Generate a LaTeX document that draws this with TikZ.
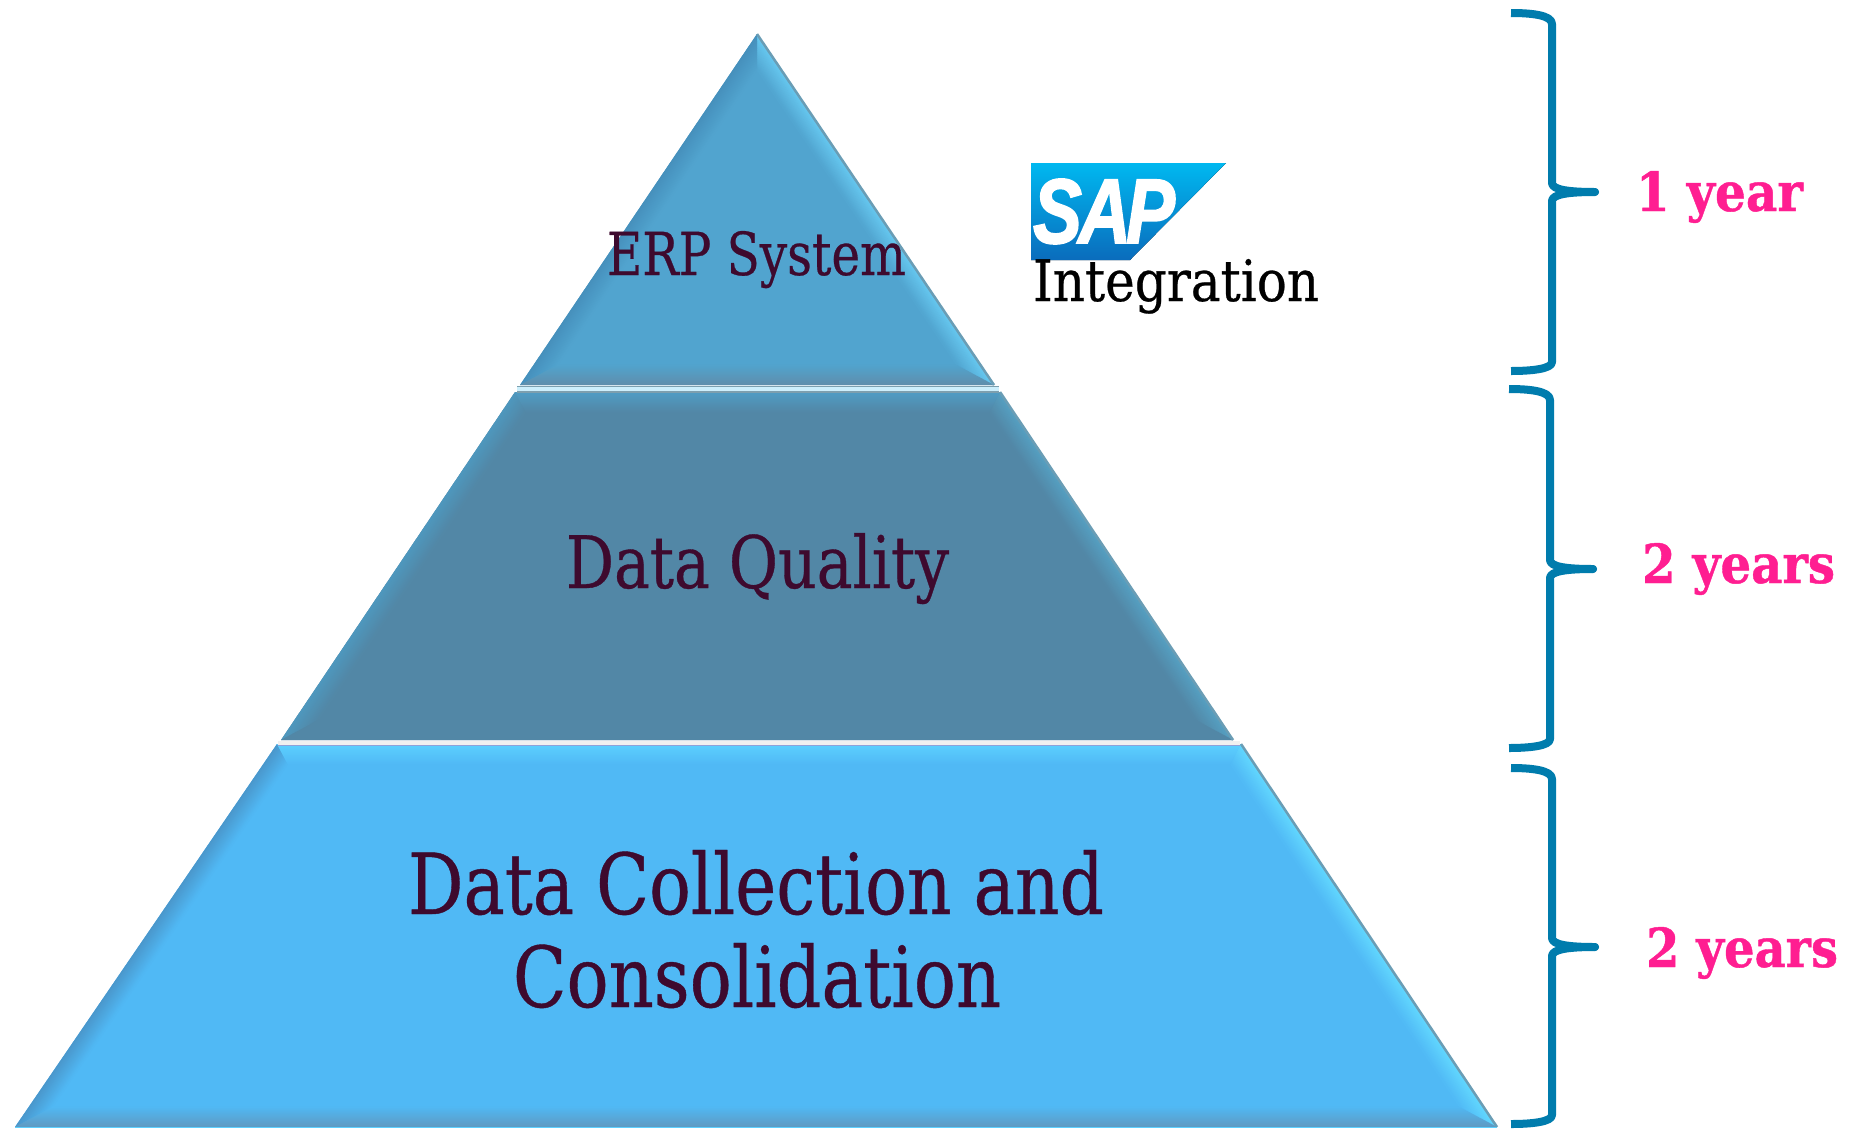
\documentclass[tikz,border=0pt]{standalone}
\usepackage{fontspec}
\usepackage{graphicx}
\newfontfamily\capfont[FakeBold=0.5]{DejaVu Serif}
\newfontfamily\capbfont[FakeBold=0.8]{DejaVu Serif}
\newfontfamily\logofont[FakeBold=2]{Liberation Sans}
\definecolor{plumtext}{HTML}{3E0A2E}
\definecolor{pinktext}{HTML}{FF1E91}
\definecolor{bracecol}{HTML}{007CAD}
\definecolor{edgeline}{HTML}{6A9DB5}
\definecolor{sapTop}{HTML}{00B8F0}
\definecolor{sapBot}{HTML}{0A6CBC}
\tikzset{
  label text/.style={inner sep=0pt,outer sep=0pt,anchor=base},
  left text/.style={inner sep=0pt,outer sep=0pt,anchor=base west},
  brace line/.style={draw=bracecol,line width=8pt,line join=round,line cap=butt},
}
% fit text to width and height above the baseline (in picture pixels)
\newcommand{\fitted}[3]{\resizebox{#1pt}{#2pt}{\capfont #3}}
\newcommand{\fittedb}[3]{\resizebox{#1pt}{#2pt}{\capbfont\bfseries #3}}
% bevelled layer: TLx TRx ytop BRx BLx ybot topvecx topvecy
\newcommand{\pyrlayer}[8]{%
  \fill[cB] (#1,#3) -- (#2,#3) -- (#4,#6) -- (#5,#6) -- cycle;
  \foreach \k in {0,...,19}{%
    \pgfmathtruncatemacro\p{100*(1-\k/20)}%
    \pgfmathsetmacro\kk{\k+1.6}%
    \fill[cL!\p!cB] ({#1+\k*#7},{#3+\k*#8}) -- ({#1+\kk*#7},{#3+\kk*#8}) -- ({#5+\kk*1.87},{#6-\kk}) -- ({#5+\k*1.87},{#6-\k}) -- cycle;
    \fill[cR!\p!cB] ({#2-\k*#7},{#3+\k*#8}) -- ({#2-\kk*#7},{#3+\kk*#8}) -- ({#4-\kk*1.87},{#6-\kk}) -- ({#4-\k*1.87},{#6-\k}) -- cycle;
    \fill[cT!\p!cB] ({#1+\k*#7},{#3+\k*#8}) -- ({#2-\k*#7},{#3+\k*#8}) -- ({#2-\kk*#7},{#3+\kk*#8}) -- ({#1+\kk*#7},{#3+\kk*#8}) -- cycle;
    \fill[cE!\p!cB] ({#5+\k*1.87},{#6-\k}) -- ({#4-\k*1.87},{#6-\k}) -- ({#4-\kk*1.87},{#6-\kk}) -- ({#5+\kk*1.87},{#6-\kk}) -- cycle;
  }
  \draw[edgeline,line width=2.5pt] (#2,#3) -- (#4,#6);
}
\newcommand{\tbrace}[5]{% left x, spine x, top, nose, bottom
  \pgfmathsetmacro\nx{#2+43}
  \draw[brace line] (#1,#3) .. controls ({#1+20},#3) and (#2,{#3+2}) .. (#2,{#3+11})
    -- (#2,{#4-9}) .. controls (#2,{#4-2}) and ({#2+18},#4) .. (\nx,#4)
    .. controls ({#2+18},#4) and (#2,{#4+2}) .. (#2,{#4+9})
    -- (#2,{#5-9}) .. controls (#2,{#5-2}) and ({#1+20},#5) .. (#1,#5);
  \fill[bracecol] (\nx,#4) circle (4pt);
}
\begin{document}
\begin{tikzpicture}[x=1pt,y=-1pt]
\useasboundingbox (0,0) rectangle (1856,1128);
\fill[white] (0,0) rectangle (1856,1128);

% top layer
\definecolor{cB}{HTML}{51A4CF}\definecolor{cL}{HTML}{4690BC}\definecolor{cR}{HTML}{66C8F0}\definecolor{cT}{HTML}{51A4CF}\definecolor{cE}{HTML}{5F8FAD}
\pyrlayer{757}{757}{34}{994}{520}{385}{0}{1.79}
% middle layer
\definecolor{cB}{HTML}{5287A6}\definecolor{cL}{HTML}{4E98BE}\definecolor{cR}{HTML}{55A0C2}\definecolor{cT}{HTML}{4F9CC4}\definecolor{cE}{HTML}{5287A6}
\pyrlayer{515}{1000}{392}{1233}{281}{740}{0.53}{1}
% bottom layer
\definecolor{cB}{HTML}{50B9F5}\definecolor{cL}{HTML}{4A97CC}\definecolor{cR}{HTML}{62D8FF}\definecolor{cT}{HTML}{5CD0FF}\definecolor{cE}{HTML}{5F9BC4}
\pyrlayer{277}{1241}{744}{1497}{15}{1127}{0.53}{1}

% separators
\fill[gray!70!cyan] (517,385.5) rectangle (999,392.5);
\fill[white!80!cyan] (517,387) rectangle (999,390.5);
\fill[white!88!gray] (278,740.5) rectangle (1240,745);
\fill[cyan!35!blue!45!white] (278,745) rectangle (1240,746);
\fill[cT] (15,1126.5) rectangle (1497,1128);

% logo
\fill[top color=sapTop,bottom color=sapBot] (1031,163) -- (1226,163) -- (1130,260) -- (1031,260) -- cycle;
\node[left text,text=white] (sap) at (1033,243) {\resizebox{142pt}{64pt}{\logofont\bfseries\itshape S\kern-.05em A\kern-.07em P}};

% texts
\node[label text,text=plumtext] (erp) at (756.5,275) {\fitted{299}{44}{ERP System}};
\node[label text,text=plumtext] (dq) at (757.5,588) {\fitted{383}{55}{Data Quality}};
\node[label text,text=plumtext] (dc1) at (756,914) {\fitted{696}{64}{Data Collection and}};
\node[label text,text=plumtext] (dc2) at (757,1007) {\fitted{488}{64}{Consolidation}};
\node[left text,text=black] (integ) at (1033,301) {\fitted{286}{42}{Integration}};

% braces
\tbrace{1511}{1552}{13}{192}{371}
\tbrace{1509}{1550}{389}{569}{748}
\tbrace{1511}{1552}{768}{947}{1124}

\node[left text,text=pinktext] (t1) at (1636,211) {\fittedb{167}{40}{1 year}};
\node[left text,text=pinktext] (t2) at (1642,583) {\fittedb{193}{40}{2 years}};
\node[left text,text=pinktext] (t3) at (1646,967) {\fittedb{192}{40}{2 years}};
\end{tikzpicture}
\end{document}
